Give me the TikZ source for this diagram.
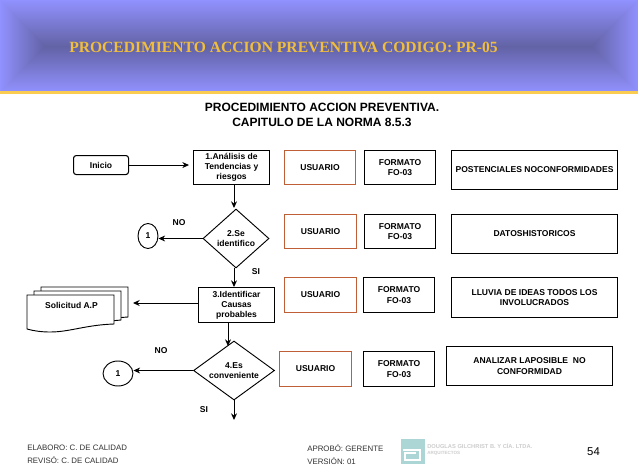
\documentclass[tikz,border=0pt]{standalone}
\usepackage{fontspec}
\setmainfont{Liberation Sans}
\newfontfamily\titlefont{Liberation Serif}
\usetikzlibrary{shapes.geometric,arrows.meta}
\definecolor{edgeblue}{RGB}{145,145,255}
\definecolor{midblue}{RGB}{98,98,165}
\definecolor{goldline}{RGB}{250,205,80}
\definecolor{goldtext}{RGB}{240,190,60}
\definecolor{orangeline}{RGB}{190,95,55}
\definecolor{logoteal}{RGB}{172,214,214}
\definecolor{logotext}{RGB}{205,205,205}
\definecolor{footgrey}{RGB}{50,50,50}
\tikzset{
  x=0.75pt,y=-0.75pt,
  every node/.style={font=\fontsize{6.4}{7.6}\selectfont\bfseries,align=center,inner sep=0pt},
  sized/.style 2 args={minimum width=#1*0.75pt,minimum height=#2*0.75pt},
  plainbox/.style={draw=black,line width=0.8pt,anchor=north west},
  userbox/.style={draw=orangeline,line width=0.8pt,anchor=north west},
  decision/.style={diamond,draw=black,line width=0.7pt,inner sep=0pt},
  conn/.style={ellipse,draw=black,line width=0.7pt},
  flow/.style={draw=black,line width=0.75pt,-{Stealth[length=5pt,width=4.5pt]}},
  foot/.style={font=\fontsize{5.9}{8}\selectfont,text=footgrey,anchor=west},
  sheet/.style={draw=black,line width=0.7pt,fill=white},
}
\begin{document}
\begin{tikzpicture}
\useasboundingbox (0,0) rectangle (638,468);
\fill[white] (0,0) rectangle (638,468);
% banner
\shade[top color=edgeblue,bottom color=midblue] (0,0) rectangle (638,46.5);
\shade[top color=midblue,bottom color=edgeblue] (0,46) rectangle (638,92);
\begin{scope}
  \clip (0,0) -- (45,46) -- (0,92) -- cycle;
  \shade[left color=edgeblue,right color=midblue] (0,0) rectangle (45,92);
\end{scope}
\begin{scope}
  \clip (638,0) -- (591,46) -- (638,92) -- cycle;
  \shade[left color=midblue,right color=edgeblue] (591,0) rectangle (638,92);
\end{scope}
\fill[goldline] (0,91) rectangle (638,94);
\node[anchor=west,text=goldtext,font=\titlefont\fontsize{11.7}{14}\selectfont\bfseries] (title) at (69,47) {PROCEDIMIENTO ACCION PREVENTIVA CODIGO: PR-05};
\node[font=\fontsize{9}{11.25}\selectfont\bfseries] (sub) at (322,114.5) {PROCEDIMIENTO ACCION PREVENTIVA.\\CAPITULO DE LA NORMA 8.5.3};
% flow
\node[plainbox,rounded corners=2pt,sized={55}{19}] (inicio) at (73,155) {Inicio};
\node[plainbox,sized={76}{34}] (n1) at (193,150) {1.Análisis de\\Tendencias y\\riesgos};
\node[decision,aspect=1.1,sized={66}{59}] (d2) at (236,238.5) {2.Se\\identifico};
\node[conn,sized={20}{25}] (c1) at (148,236) {1};
\node[plainbox,sized={76}{35}] (n3) at (198,287) {3.Identificar\\Causas\\probables};
\node[decision,aspect=1.37,sized={81}{59}] (d4) at (234,370.5) {4.Es\\conveniente};
\node[conn,sized={30}{25}] (c2) at (118,373.5) {1};
% stacked document
\draw[sheet] (41,287) -- (128,287) -- (128,317) -- (114,318) -- (41,318) -- cycle;
\draw[sheet] (34,291) -- (121,291) -- (121,320) -- (100,322) -- (34,322) -- cycle;
\draw[sheet] (27,295) -- (114,295) -- (114,324) .. controls (85,325) and (70,332) .. (50,332) .. controls (42,332) and (34,331) .. (27,329) -- cycle;
\node (doc) at (71.5,305) {Solicitud A.P};
% side columns
\node[userbox,sized={71}{34}] (u1) at (284,150) {USUARIO};
\node[userbox,sized={72}{34}] (u2) at (284,214) {USUARIO};
\node[userbox,sized={72}{35}] (u3) at (284,277) {USUARIO};
\node[userbox,sized={72}{35}] (u4) at (279,351) {USUARIO};
\node[plainbox,sized={71}{34}] (f1) at (364,150) {FORMATO\\FO-03};
\node[plainbox,sized={71}{34}] (f2) at (364,214) {FORMATO\\FO-03};
\node[plainbox,sized={71}{35}] (f3) at (363,277) {FORMATO\\FO-03};
\node[plainbox,sized={71}{35}] (f4) at (363,351) {FORMATO\\FO-03};
\node[plainbox,sized={166}{39}] (r1) at (451,150) {POSTENCIALES NOCONFORMIDADES};
\node[plainbox,sized={166}{39}] (r2) at (451,214) {DATOSHISTORICOS};
\node[plainbox,sized={166}{40}] (r3) at (451,277) {LLUVIA DE IDEAS TODOS LOS\\INVOLUCRADOS};
\node[plainbox,sized={166}{39}] (r4) at (446,346) {ANALIZAR LAPOSIBLE\ \ NO\\CONFORMIDAD};
% free ends and offsets
\coordinate (a12) at (234,184);
\coordinate (a12e) at (234,208);
\coordinate (a23) at (234,268);
\coordinate (a23e) at (234,287);
\coordinate (a34) at (228,322);
\coordinate (a34e) at (228,346);
\coordinate (docend) at (133,303);
\coordinate (down) at (234,420);
\draw[flow,shorten >=3pt] (inicio.east) -- (inicio.east -| n1.west);
\draw[flow] (a12) -- (a12e);
\draw[flow] (d2.west) -- (d2.west -| c1.east);
\draw[flow] (a23) -- (a23e);
\draw[flow] (n3.west |- docend) -- (docend);
\draw[flow] (a34) -- (a34e);
\draw[flow] (d4.west) -- (d4.west -| c2.east);
\draw[flow] (d4.south) -- (down);
% labels
\node (no1) at (179,223) {NO};
\node (si1) at (256,272) {SI};
\node (no2) at (161,351) {NO};
\node (si2) at (204,410) {SI};
% footer
\node[foot] (e1) at (27,448) {ELABORO: C. DE CALIDAD};
\node[foot] (e2) at (27,460) {REVISÓ: C. DE CALIDAD};
\node[foot] (e3) at (307,448) {APROBÓ: GERENTE};
\node[foot] (e4) at (307,461) {VERSIÓN: 01};
% logo
\fill[logoteal] (401,439) rectangle (425,464);
\draw[white,line width=0.9pt] (403,450) -- (420,450) -- (420,460) -- (405,460) -- (405,453) -- (416,453);
\node[anchor=west,text=logotext,font=\fontsize{4.3}{5}\selectfont\bfseries] (lg1) at (427,446) {DOUGLAS GILCHRIST B. Y CÍA. LTDA.};
\node[anchor=west,text=logotext,font=\fontsize{3.4}{5}\selectfont\bfseries] (lg2) at (427,453) {ARQUITECTOS};
\node[font=\fontsize{8.5}{11}\selectfont,anchor=center] (pg) at (593.5,452) {54};
\end{tikzpicture}
\end{document}
